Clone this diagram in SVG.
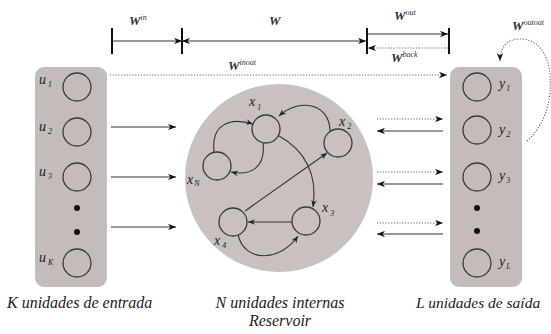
<svg xmlns="http://www.w3.org/2000/svg" width="551" height="334" viewBox="0 0 551 334">
<defs>
<style>
.t{font-family:"Liberation Serif","Times New Roman",serif;font-style:italic;fill:#222}
.lbl{font-size:14px}
.sub{font-size:8px}
.w{font-family:"Liberation Serif","Times New Roman",serif;font-style:italic;font-weight:bold;fill:#2c3344;font-size:13px}
.wsup{font-size:8px;font-weight:normal}
.cap{font-size:16px}
.node{fill:none;stroke:#3a3a3a;stroke-width:1.3}
.ln{fill:none;stroke:#333;stroke-width:1.1}
.dot{fill:none;stroke:#666;stroke-width:1.1;stroke-dasharray:1.2 1.6}
.bar{stroke:#111;stroke-width:2}
.panel{fill:#c4bcbb}
</style>
<marker id="ah" viewBox="0 0 10 8" refX="10" refY="4" markerWidth="8" markerHeight="6.4" markerUnits="userSpaceOnUse" orient="auto-start-reverse">
<path d="M0,0 L10,4 L0,8 L3,4 z" fill="#111"/>
</marker>
<marker id="ahs" viewBox="0 0 10 8" refX="10" refY="4" markerWidth="7" markerHeight="5.6" markerUnits="userSpaceOnUse" orient="auto">
<path d="M0,0 L10,4 L0,8 L3,4 z" fill="#222"/>
</marker>
</defs>
<rect width="551" height="334" fill="#ffffff"/>

<g id="input-panel">
<rect class="panel" x="35" y="67" width="72" height="220" rx="9"/>
<circle class="node" cx="77" cy="87" r="14"/>
<circle class="node" cx="77" cy="132" r="14"/>
<circle class="node" cx="77" cy="177" r="14"/>
<circle cx="77" cy="208" r="3" fill="#111"/>
<circle cx="77" cy="232" r="3" fill="#111"/>
<circle class="node" cx="77" cy="263" r="14"/>
<text class="t lbl" x="39" y="84">u<tspan class="sub" dx="2" dy="3">1</tspan></text>
<text class="t lbl" x="39" y="131">u<tspan class="sub" dx="2" dy="3">2</tspan></text>
<text class="t lbl" x="39" y="176">u<tspan class="sub" dx="2" dy="3">3</tspan></text>
<text class="t lbl" x="39" y="262">u<tspan class="sub" dx="2" dy="3">K</tspan></text>
</g>

<g id="reservoir">
<circle cx="279" cy="178" r="94" fill="#c9c1c0"/>
<circle class="node" cx="266" cy="129" r="14"/>
<circle class="node" cx="338" cy="143" r="14"/>
<circle class="node" cx="217" cy="166" r="14"/>
<circle class="node" cx="233" cy="222" r="14"/>
<circle class="node" cx="306" cy="221" r="14"/>
<text class="t lbl" x="249" y="106">x<tspan class="sub" dx="2" dy="4">1</tspan></text>
<text class="t lbl" x="339" y="126">x<tspan class="sub" dx="2" dy="3">2</tspan></text>
<text class="t lbl" x="187" y="184">x<tspan class="sub" dx="1" dy="2">N</tspan></text>
<text class="t lbl" x="214" y="245">x<tspan class="sub" dx="2" dy="3">4</tspan></text>
<text class="t lbl" x="322" y="212">x<tspan class="sub" dx="2" dy="4">3</tspan></text>
</g>

<g id="output-panel">
<rect class="panel" x="450" y="67" width="72" height="220" rx="9"/>
<circle class="node" cx="477" cy="87" r="14"/>
<circle class="node" cx="477" cy="130" r="14"/>
<circle class="node" cx="477" cy="177" r="14"/>
<circle cx="477" cy="208" r="3" fill="#111"/>
<circle cx="477" cy="231" r="3" fill="#111"/>
<circle class="node" cx="477" cy="263" r="14"/>
<text class="t lbl" x="499" y="88">y<tspan class="sub" dx="1" dy="3">1</tspan></text>
<text class="t lbl" x="499" y="134">y<tspan class="sub" dx="1" dy="3">2</tspan></text>
<text class="t lbl" x="499" y="180">y<tspan class="sub" dx="1" dy="3">3</tspan></text>
<text class="t lbl" x="499" y="266">y<tspan class="sub" dx="1" dy="3">L</tspan></text>
</g>

<g id="connectors">
<line class="ln" x1="111" y1="127" x2="176" y2="127" marker-end="url(#ah)"/>
<line class="ln" x1="111" y1="177" x2="176" y2="177" marker-end="url(#ah)"/>
<line class="ln" x1="111" y1="227" x2="176" y2="227" marker-end="url(#ah)"/>
<line class="dot" x1="377" y1="119" x2="443" y2="119" marker-end="url(#ah)"/>
<line class="ln" x1="443" y1="131" x2="377" y2="131" marker-end="url(#ah)"/>
<line class="dot" x1="377" y1="172" x2="443" y2="172" marker-end="url(#ah)"/>
<line class="ln" x1="443" y1="184" x2="377" y2="184" marker-end="url(#ah)"/>
<line class="dot" x1="377" y1="223" x2="443" y2="223" marker-end="url(#ah)"/>
<line class="ln" x1="443" y1="234" x2="377" y2="234" marker-end="url(#ah)"/>
<line class="dot" x1="110" y1="75" x2="447" y2="75" marker-end="url(#ah)"/>
<path class="dot" d="M527,141 C545,125 552,100 550,75 C548,50 535,38 518,39 C506,40 500,48 500,61" marker-end="url(#ah)"/>
<line class="bar" x1="112" y1="28" x2="112" y2="54"/>
<line class="bar" x1="182" y1="28" x2="182" y2="54"/>
<line class="bar" x1="367" y1="28" x2="367" y2="54"/>
<line class="bar" x1="449" y1="28" x2="449" y2="54"/>
<line class="ln" x1="112" y1="41" x2="182" y2="41" marker-end="url(#ah)"/>
<line class="ln" x1="182" y1="41" x2="366" y2="41" marker-start="url(#ah)" marker-end="url(#ah)"/>
<line class="ln" x1="367" y1="34" x2="448" y2="34" marker-end="url(#ah)"/>
<line class="dot" x1="448" y1="48" x2="368" y2="48" marker-end="url(#ah)"/>
<path class="ln" d="M330,131 C330,104 300,97 279,116" marker-end="url(#ahs)"/>
<path class="ln" d="M214,152 C211,124 230,117 253,124" marker-end="url(#ahs)"/>
<path class="ln" d="M263,143 C266,168 250,176 231,172" marker-end="url(#ahs)"/>
<path class="ln" d="M279,136 C305,150 318,175 313,207" marker-end="url(#ahs)"/>
<line class="ln" x1="245" y1="211" x2="327" y2="153" marker-end="url(#ahs)"/>
<line class="ln" x1="292" y1="222" x2="248" y2="222" marker-end="url(#ahs)"/>
<path class="ln" d="M238,235 C245,263 280,262 298,236" marker-end="url(#ahs)"/>
</g>

<g id="weight-labels">
<text class="w" x="129" y="25">W<tspan class="wsup" dy="-5">in</tspan></text>
<text class="w" x="269" y="25">W</text>
<text class="w" x="394" y="20">W<tspan class="wsup" dy="-5">out</tspan></text>
<text class="w" x="391" y="62">W<tspan class="wsup" dy="-5">back</tspan></text>
<text class="w" x="228" y="70">W<tspan class="wsup" dy="-5">inout</tspan></text>
<text class="w" x="512" y="30">W<tspan class="wsup" dy="-5">outout</tspan></text>
</g>

<g id="captions">
<text class="t cap" x="7" y="308">K unidades de entrada</text>
<text class="t cap" x="280" y="308" text-anchor="middle">N unidades internas</text>
<text class="t cap" x="280" y="326" text-anchor="middle">Reservoir</text>
<text class="t cap" x="416" y="308" style="font-size:15.5px">L unidades de saída</text>
</g>
</svg>
